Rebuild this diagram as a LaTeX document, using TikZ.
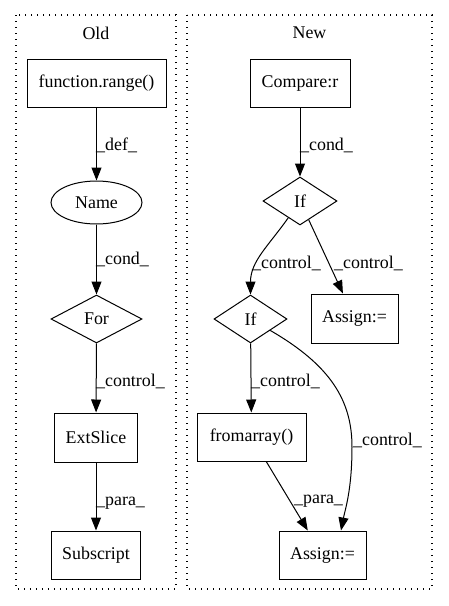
\documentclass[tikz,border=0pt]{standalone}
\usepackage{fontspec}
\setmainfont{Liberation Serif}
\usetikzlibrary{shapes.geometric,arrows.meta}

\tikzset{
  every node/.style={font=\fontsize{17.9}{20}\selectfont},
  cluster/.style={draw, line width=1.1pt, dash pattern=on 1.3pt off 4.7pt},
  boxnode/.style={draw, line width=1pt, rectangle, inner sep=0pt},
  ovalnode/.style={draw, line width=1pt, ellipse, inner sep=0pt},
  decision/.style={draw, line width=1pt, diamond, inner sep=0pt},
  edge/.style={line width=1pt, -{Triangle[length=13pt,width=10pt]}},
  lbl/.style={anchor=base west, inner sep=0pt},
}

\begin{document}
\begin{tikzpicture}[x=1pt, y=-1pt]
\useasboundingbox (0,0) rectangle (448,606);

% clusters
\draw[cluster] (16,15) rectangle (176,589);
\draw[cluster] (187,15) rectangle (432,589);
\node (oldtitle) at (96,33) {Old};
\node (newtitle) at (309.5,33) {New};

% Old
\node[boxnode, minimum width=139pt, minimum height=48pt] (fr) at (96.5,83) {function.range()};
\node[ovalnode, minimum width=91pt, minimum height=43pt] (name) at (96.5,202.5) {Name};
\node[decision, minimum width=91pt, minimum height=48pt] (for) at (96.5,319) {For};
\node[boxnode, minimum width=83pt, minimum height=49pt] (ext) at (96,437.5) {ExtSlice};
\node[boxnode, minimum width=89pt, minimum height=48pt] (sub) at (96,555) {Subscript};

\draw[edge] (fr) -- (name);
\draw[edge] (name) -- (for);
\draw[edge] (for) -- (ext);
\draw[edge] (ext) -- (sub);
\node[lbl] (ldef) at (96,150) {\_def\_};
\node[lbl] (lcondo) at (96,264) {\_cond\_};
\node[lbl] (lctrlo) at (96,386) {\_control\_};
\node[lbl] (lparao) at (96,505) {\_para\_};

% New
\node[boxnode, minimum width=100pt, minimum height=48pt] (cmp) at (300,83) {Compare:r};
\node[decision, minimum width=74pt, minimum height=48pt] (ifa) at (300,201) {If};
\node[boxnode, minimum width=87pt, minimum height=49pt] (asa) at (354.5,318.5) {Assign:=};
\node[decision, minimum width=73pt, minimum height=48pt] (ifb) at (250.5,319) {If};
\node[boxnode, minimum width=109pt, minimum height=48pt] (fa) at (251.5,437) {fromarray()};
\node[boxnode, minimum width=87pt, minimum height=48pt] (asb) at (322.5,555) {Assign:=};

\draw[edge] (cmp) -- (ifa);
\draw[edge] (ifa) to[out=-125, in=90] (ifb);
\draw[edge] (ifa) -- (asa);
\draw[edge] (ifb) -- (fa);
\draw[edge] (ifb) .. controls (330,365) and (352,400) .. (352,447)
  .. controls (352,490) and (345,510) .. ([xshift=18.5pt]asb.north);
\draw[edge] (fa) -- (asb);

\node[lbl] (lcondn) at (300,150) {\_cond\_};
\node[lbl] (lctrla) at (252,268) {\_control\_};
\node[lbl] (lctrlb) at (334,268) {\_control\_};
\node[lbl] (lctrlc) at (251,386) {\_control\_};
\node[lbl] (lctrld) at (353,445) {\_control\_};
\node[lbl] (lparan) at (294,503) {\_para\_};
\end{tikzpicture}
\end{document}
